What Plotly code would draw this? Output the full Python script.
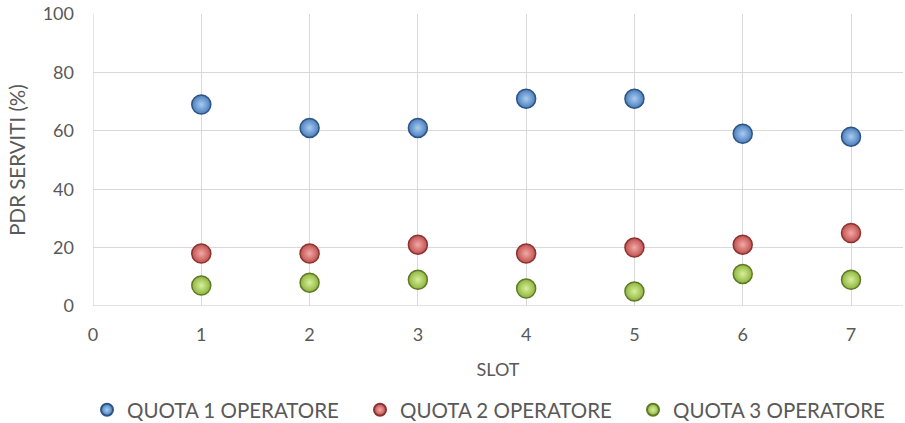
import plotly.graph_objects as go

slots = [1, 2, 3, 4, 5, 6, 7]
quota1 = [69, 61, 61, 71, 71, 59, 58]
quota2 = [18, 18, 21, 18, 20, 21, 25]
quota3 = [7, 8, 9, 6, 5, 11, 9]
names = ["QUOTA 1 OPERATORE", "QUOTA 2 OPERATORE", "QUOTA 3 OPERATORE"]
fills = ["#4A7EBB", "#C0504D", "#8DB33E"]
centers = ["#A9CBF2", "#F2A9A7", "#D8F09A"]
edges = ["#2C5485", "#8A3431", "#5E7A26"]

fig = go.Figure()
for vals, name, fc, cc, ec in zip([quota1, quota2, quota3], names, fills, centers, edges):
    fig.add_trace(go.Scatter(
        x=slots, y=vals, mode="markers", name=name,
        marker=dict(size=19, color=fc, line=dict(color=ec, width=1.5),
                    gradient=dict(type="radial", color=cc)),
    ))

font = "Lato, Calibri, 'Liberation Sans', sans-serif"
fig.update_layout(
    width=905, height=423,
    margin=dict(l=93, r=2, t=14, b=117, autoexpand=False),
    paper_bgcolor="white", plot_bgcolor="white",
    font=dict(family=font, size=18, color="#595959"),
    showlegend=True,
    legend=dict(orientation="h", x=-0.0074, xanchor="left", y=-0.356, yanchor="middle",
                font=dict(size=20.5, color="#595959"), itemsizing="constant",
                entrywidth=228, entrywidthmode="pixels",
                traceorder="normal"),
    xaxis=dict(range=[0, 7.48], tick0=0, dtick=1, showgrid=True, gridcolor="#D9D9D9",
               gridwidth=1.3, zeroline=False, showline=False, ticks="",
               ticklabelstandoff=16,
               title=dict(text="SLOT", font=dict(size=18, color="#595959"), standoff=19),
               tickfont=dict(size=18, color="#595959")),
    yaxis=dict(range=[0, 100], dtick=20, showgrid=True, gridcolor="#D9D9D9",
               gridwidth=1.3, zeroline=False, showline=False, ticks="",
               ticklabelstandoff=18,
               title=dict(text="PDR SERVITI (%)", font=dict(size=20.5, color="#595959"), standoff=11),
               tickfont=dict(size=18, color="#595959")),
)
fig.add_shape(type="line", xref="x", yref="y", x0=0, x1=7.48, y0=0, y1=0,
              line=dict(color="#D9D9D9", width=1.3), layer="below")
fig.add_shape(type="line", xref="x", yref="y", x0=0, x1=0, y0=0, y1=100,
              line=dict(color="#D9D9D9", width=1.3), layer="below")

fig.write_html("out.html")
